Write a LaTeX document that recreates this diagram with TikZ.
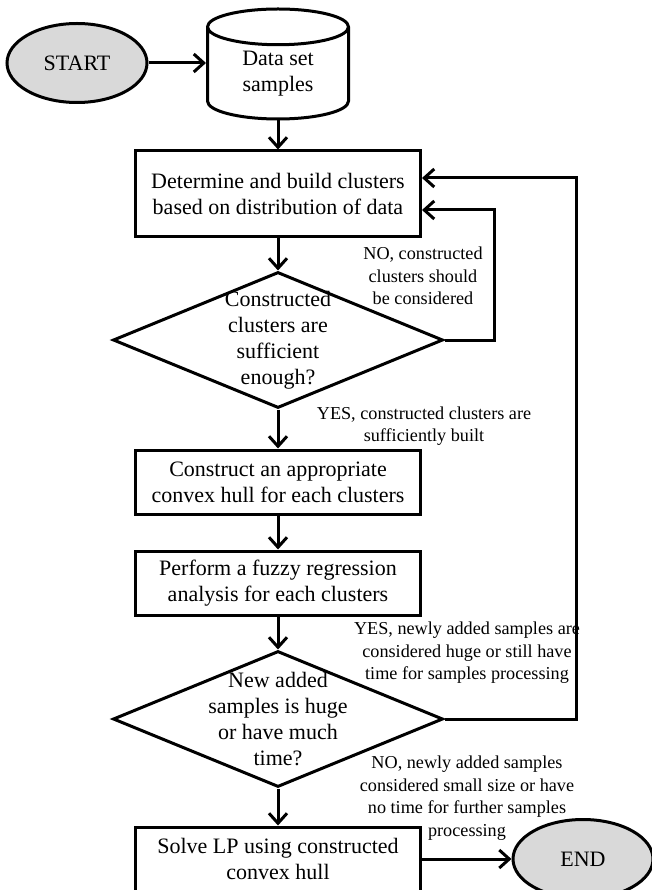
\documentclass[tikz,border=0pt]{standalone}
\usepackage{fontspec}
\setmainfont{Liberation Serif}
\usetikzlibrary{arrows.meta,shapes.geometric,positioning}
\definecolor{endgray}{RGB}{217,217,217}

\tikzset{
    boxtext/.style={font=\fontsize{22}{26}\selectfont, align=center},
    terminal/.style={ellipse, draw, line width=3pt, fill=endgray, boxtext,
        minimum width=140pt, minimum height=79pt, inner sep=0pt},
    store/.style={cylinder, draw, line width=3pt, shape border rotate=90, aspect=0.5,
        minimum width=141pt, minimum height=110pt, boxtext, inner sep=0pt},
    process/.style={rectangle, draw, line width=3pt, boxtext,
        minimum width=285pt, minimum height=64pt, inner sep=0pt},
    decision/.style={diamond, draw, line width=3pt,
        minimum width=330pt, minimum height=136pt, inner sep=0pt},
    answer/.style={font=\fontsize{18.2}{22.5}\selectfont, align=center, inner sep=0pt},
    flow/.style={line width=3pt, -{Straight Barb[length=10pt,width=18pt]}},
}

\begin{document}
\begin{tikzpicture}[x=1pt,y=1pt]
    %% Background
    \useasboundingbox (0,0) rectangle (651,-890);
    %% Terminals and data
    \node[terminal] (start) at (77,-63) {START};
    \node[store, anchor=shape center] (data) at (278,-64) {Data set\\samples};
    \node[terminal] (end) at (583,-859) {END};
    %% Steps
    \node[process, minimum height=86pt] (build) at (278,-194) {Determine and build clusters\\based on distribution of data};
    \node[decision, label={[boxtext,name=enoughtext]center:{Constructed\\clusters are\\sufficient\\enough?}}] (enough) at (278,-340) {};
    \node[process] (hull) at (278,-482) {Construct an appropriate\\convex hull for each clusters};
    \node[process] (regress) at (278,-583) {Perform a fuzzy regression\\analysis for each clusters};
    \node[decision, label={[boxtext,name=newdatatext]center:{New added\\samples is huge\\or have much\\time?}}] (newdata) at (278,-719) {};
    \node[process] (solve) at (278,-859) {Solve LP using constructed\\convex hull};
    %% Answers
    \node[answer] (nobuild) at (423,-276) {NO, constructed\\clusters should\\be considered};
    \node[answer] (yesbuild) at (424,-426) {YES, constructed clusters are\\sufficiently built};
    \node[answer] (yesnew) at (467,-653) {YES, newly added samples are\\considered huge or still have\\time for samples processing};
    \node[answer] (nonew) at (467,-798) {NO, newly added samples\\considered small size or have\\no time for further samples\\processing};
    %% Flow
    \draw[flow] (start.east) -- (start.east -| data.west);
    \draw[flow] (data) -- (build);
    \draw[flow] (build) -- (enough);
    \draw[flow] (enough) -- (hull);
    \draw[flow] (hull) -- (regress);
    \draw[flow] (regress) -- (newdata);
    \draw[flow] (newdata) -- (solve);
    \draw[flow] (solve) -- (end);
    %% Loops
    \draw[flow] (enough.east) -- ++(50,0) |- ([yshift=-16pt]build.east);
    \draw[flow] (newdata.east) -- ++(132,0) |- ([yshift=16pt]build.east);
\end{tikzpicture}
\end{document}
